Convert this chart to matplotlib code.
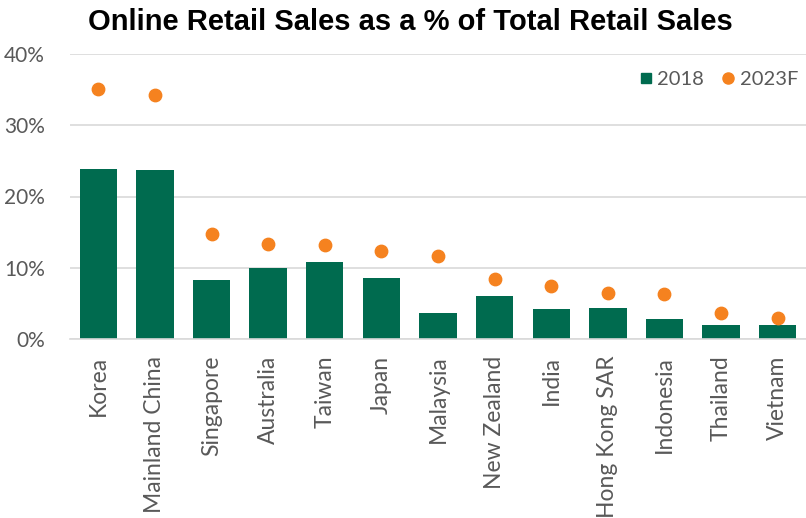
import matplotlib
matplotlib.use("Agg")
import matplotlib.pyplot as plt
import numpy as np
from matplotlib.ticker import FuncFormatter
from matplotlib.lines import Line2D

# Online share of retail, 2018 actual vs 2023 forecast (%)
countries = ['Korea', 'Mainland China', 'Singapore', 'Australia', 'Taiwan',
             'Japan', 'Malaysia', 'New Zealand', 'India', 'Hong Kong SAR',
             'Indonesia', 'Thailand', 'Vietnam']
share_2018 = [23.9, 23.7, 8.3, 10.0, 10.8, 8.5, 3.6, 6.0, 4.2, 4.3, 2.8, 2.0, 2.0]
share_2023f = [35.1, 34.3, 14.7, 13.4, 13.2, 12.4, 11.7, 8.4, 7.5, 6.4, 6.3, 3.7, 3.0]

green = '#006b4f'
orange = '#f5821f'
grey_text = '#595959'

fig = plt.figure(figsize=(8.06, 5.18), dpi=100)
ax = fig.add_axes([70 / 806, 1 - 339 / 518, 736 / 806, (339 - 54) / 518])

x = np.arange(len(countries))
ax.bar(x, share_2018, width=0.66, color=green, zorder=2)
ax.scatter(x, share_2023f, s=80, color=orange, zorder=3)

ax.set_xlim(-0.5, len(countries) - 0.5)
ax.set_ylim(0, 40)
ax.set_yticks([0, 10, 20, 30, 40])
ax.yaxis.set_major_formatter(FuncFormatter(lambda v, pos: '%d%%' % v))
ax.grid(axis='y', color='#d9d9d9', linewidth=1.2, zorder=0)
ax.set_axisbelow(True)

ax.set_xticks(x)
ax.set_xticklabels(countries, rotation=90, fontsize=16.5, color=grey_text,
                   family='Lato')
for lab in ax.get_yticklabels():
    lab.set_fontsize(15)
    lab.set_color(grey_text)
    lab.set_family('Lato')
ax.tick_params(axis='x', length=0, pad=12)
ax.tick_params(axis='y', length=0, pad=18)

for side in ['top', 'right', 'left']:
    ax.spines[side].set_visible(False)
ax.spines['bottom'].set_color('#d9d9d9')
ax.spines['bottom'].set_linewidth(1.2)

# legend: square for the bars, dot for the forecast
handles = [Line2D([], [], marker='s', linestyle='', color=green, markersize=7),
           Line2D([], [], marker='o', linestyle='', color=orange, markersize=8)]
leg = ax.legend(handles, ['2018', '2023F'], loc='upper right', ncol=2,
                frameon=False, handlelength=0.4, handletextpad=0.35,
                columnspacing=1.0, borderaxespad=0.0,
                bbox_to_anchor=(1.0, 0.97),
                prop={'family': 'Lato', 'size': 14.5})
for t in leg.get_texts():
    t.set_color(grey_text)

fig.text(410 / 806, 1 - 22 / 518, 'Online Retail Sales as a % of Total Retail Sales',
         ha='center', va='center', fontsize=21, fontweight='bold',
         family='Liberation Sans')

fig.savefig('out.png', dpi=100)
